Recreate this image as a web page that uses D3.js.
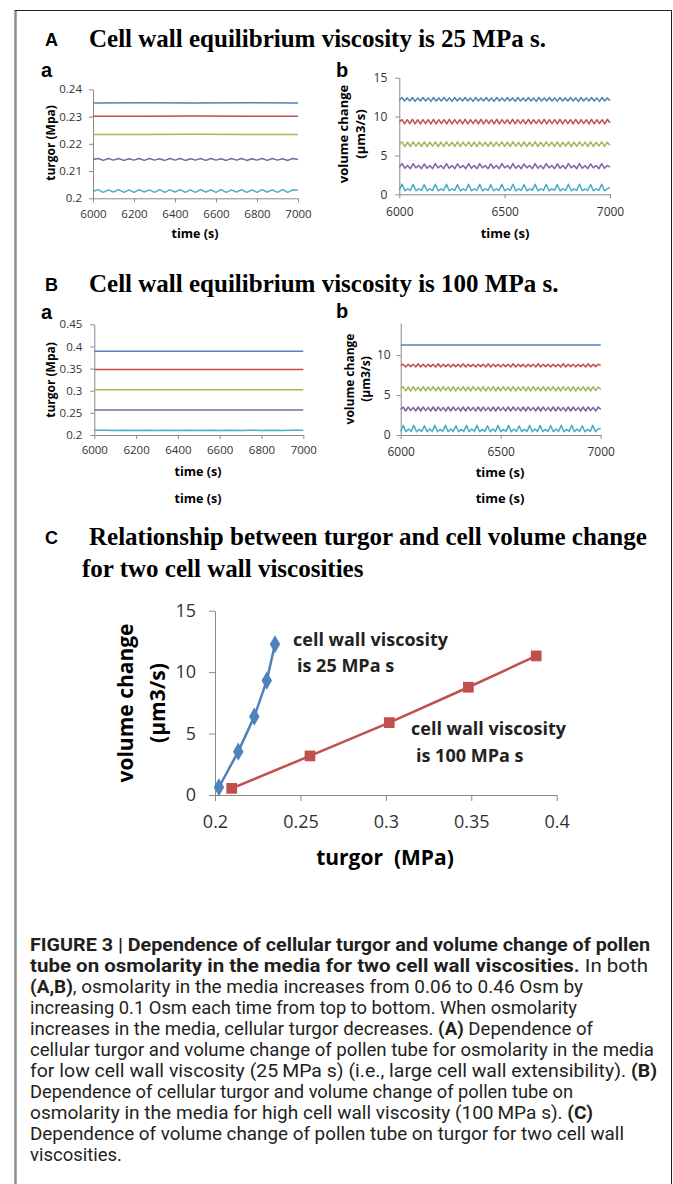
<!DOCTYPE html>
<html>
<head>
<meta charset="utf-8">
<script src="https://cdn.jsdelivr.net/npm/d3@7"></script>
<style>
body { margin: 0; background: #fff; }
svg text { font-family: "Open Sans", sans-serif; }
</style>
</head>
<body>
<svg id="fig" width="673" height="1184"></svg>
<script>
// colours of the five osmolarity levels (0.06 ... 0.46 Osm, top to bottom)
const colors = ["#4F81BD", "#C0504D", "#9BBB59", "#8064A2", "#4BACC6"];

// ticks
const timeTicksA = [6000, 6200, 6400, 6600, 6800, 7000];
const timeTicksB = [6000, 6500, 7000];
const aaTicksY = [0.2, 0.21, 0.22, 0.23, 0.24];
const abTicksY = [0, 5, 10, 15];
const baTicksY = [0.2, 0.25, 0.3, 0.35, 0.4, 0.45];
const bbTicksY = [0, 5, 10];
const cTicksX = [0.2, 0.25, 0.3, 0.35, 0.4];
const cTicksY = [0, 5, 10, 15];

// A a : turgor (MPa), samples evenly spread over 6000-7000 s
const aaBlue = [0.2350, 0.2351, 0.2350, 0.2351, 0.2350];
const aaRed = [0.2301, 0.2301, 0.2302, 0.2301, 0.2301];
const aaGreen = [0.2234, 0.2234, 0.2235, 0.2234, 0.2234];
const aaPurple = [0.2142, 0.2146, 0.2139, 0.2146, 0.2140, 0.2146, 0.2139, 0.2145, 0.2140, 0.2146,
  0.2139, 0.2146, 0.2140, 0.2145, 0.2139, 0.2146, 0.2140, 0.2146, 0.2139, 0.2145,
  0.2140, 0.2146, 0.2139, 0.2146, 0.2140, 0.2145, 0.2139, 0.2146, 0.2140, 0.2146,
  0.2139, 0.2145, 0.2140, 0.2146, 0.2139, 0.2146, 0.2140, 0.2145, 0.2139, 0.2146, 0.2142];
const aaCyan = [0.2025, 0.2032, 0.2022, 0.2031, 0.2023, 0.2032, 0.2022, 0.2031, 0.2022, 0.2032,
  0.2023, 0.2031, 0.2022, 0.2032, 0.2022, 0.2031, 0.2023, 0.2032, 0.2022, 0.2031,
  0.2022, 0.2032, 0.2023, 0.2031, 0.2022, 0.2032, 0.2022, 0.2031, 0.2023, 0.2032,
  0.2022, 0.2031, 0.2022, 0.2032, 0.2023, 0.2031, 0.2022, 0.2032, 0.2022, 0.2031, 0.2030];

// A b : volume change (um3/s)
const abBlue = [12.1, 12.45, 12.0, 12.4, 12.0, 12.45, 11.95, 12.4, 12.0, 12.45,
  12.0, 12.4, 11.95, 12.45, 12.0, 12.4, 12.0, 12.45, 12.0, 12.4,
  11.95, 12.45, 12.0, 12.4, 12.0, 12.45, 12.0, 12.4, 11.95, 12.45,
  12.0, 12.4, 12.0, 12.45, 12.0, 12.4, 11.95, 12.45, 12.0, 12.4,
  12.0, 12.45, 12.0, 12.4, 11.95, 12.45, 12.0, 12.4, 12.0, 12.45,
  12.0, 12.4, 11.95, 12.45, 12.0, 12.4, 12.0, 12.45, 12.0, 12.4,
  11.95, 12.45, 12.0, 12.4, 12.0, 12.45, 12.0, 12.4, 11.95, 12.45,
  12.0, 12.4, 12.0, 12.45, 12.0, 12.4, 11.95, 12.45, 12.0, 12.4, 12.05];
const abRed = [9.3, 9.6, 9.05, 9.6, 9.1, 9.65, 9.05, 9.6, 9.05, 9.6,
  9.1, 9.6, 9.05, 9.65, 9.05, 9.6, 9.1, 9.6, 9.05, 9.65,
  9.05, 9.6, 9.1, 9.6, 9.05, 9.65, 9.05, 9.6, 9.1, 9.6,
  9.05, 9.65, 9.05, 9.6, 9.1, 9.6, 9.05, 9.65, 9.05, 9.6,
  9.1, 9.6, 9.05, 9.65, 9.05, 9.6, 9.1, 9.6, 9.05, 9.65,
  9.05, 9.6, 9.1, 9.6, 9.05, 9.65, 9.05, 9.6, 9.1, 9.6,
  9.05, 9.65, 9.05, 9.6, 9.1, 9.6, 9.05, 9.65, 9.05, 9.6,
  9.1, 9.6, 9.05, 9.65, 9.05, 9.6, 9.1, 9.6, 9.05, 9.65, 9.2];
const abGreen = [6.4, 6.75, 6.15, 6.7, 6.15, 6.75, 6.2, 6.7, 6.15, 6.75,
  6.15, 6.7, 6.2, 6.75, 6.15, 6.7, 6.15, 6.75, 6.2, 6.7,
  6.15, 6.75, 6.15, 6.7, 6.2, 6.75, 6.15, 6.7, 6.15, 6.75,
  6.2, 6.7, 6.15, 6.75, 6.15, 6.7, 6.2, 6.75, 6.15, 6.7,
  6.15, 6.75, 6.2, 6.7, 6.15, 6.75, 6.15, 6.7, 6.2, 6.75,
  6.15, 6.7, 6.15, 6.75, 6.2, 6.7, 6.15, 6.75, 6.15, 6.7,
  6.2, 6.75, 6.15, 6.7, 6.15, 6.75, 6.2, 6.7, 6.15, 6.75,
  6.15, 6.7, 6.2, 6.75, 6.15, 6.7, 6.3];
const abPurple = [3.5, 3.95, 3.35, 3.7, 3.3, 3.95, 3.4, 3.7, 3.3, 3.9,
  3.35, 3.7, 3.3, 3.95, 3.4, 3.7, 3.3, 3.95, 3.35, 3.7,
  3.3, 3.9, 3.4, 3.7, 3.3, 3.95, 3.35, 3.7, 3.3, 3.95,
  3.4, 3.7, 3.3, 3.9, 3.35, 3.7, 3.3, 3.95, 3.4, 3.7,
  3.3, 3.95, 3.35, 3.7, 3.3, 3.9, 3.4, 3.7, 3.3, 3.95,
  3.35, 3.7, 3.3, 3.95, 3.4, 3.7, 3.3, 3.9, 3.35, 3.7,
  3.3, 3.95, 3.4, 3.7, 3.3, 3.95, 3.35, 3.7, 3.3, 3.9,
  3.4, 3.7, 3.3, 3.95, 3.35, 3.7, 3.5];
const abCyan = [0.55, 1.3, 0.45, 0.7, 0.5, 1.3, 0.45, 0.7, 0.5, 1.25,
  0.45, 0.7, 0.5, 1.3, 0.45, 0.7, 0.5, 1.3, 0.45, 0.7,
  0.5, 1.25, 0.45, 0.7, 0.5, 1.3, 0.45, 0.7, 0.5, 1.3,
  0.45, 0.7, 0.5, 1.25, 0.45, 0.7, 0.5, 1.3, 0.45, 0.7,
  0.5, 1.3, 0.45, 0.7, 0.5, 1.25, 0.45, 0.7, 0.5, 1.3,
  0.45, 0.7, 0.5, 1.3, 0.45, 0.7, 0.5, 1.25, 0.45, 0.7,
  0.5, 1.3, 0.45, 0.7, 0.5, 1.3, 0.45, 0.7, 0.5, 1.25,
  0.45, 0.7, 0.5, 1.3, 0.45, 0.7, 0.9];

// B a : turgor (MPa)
const baBlue = [0.389, 0.389, 0.389];
const baRed = [0.348, 0.348, 0.348];
const baGreen = [0.302, 0.302, 0.302];
const baPurple = [0.2565, 0.2565, 0.2565];
const baCyan = [0.2105, 0.2109, 0.2102, 0.2109, 0.2102, 0.2108, 0.2102, 0.2109, 0.2102, 0.2108,
  0.2102, 0.2109, 0.2102, 0.2108, 0.2102, 0.2109, 0.2102, 0.2108, 0.2102, 0.2109, 0.2105];

// B b : volume change (um3/s)
const bbBlue = [11.25, 11.25, 11.25];
const bbRed = [8.7, 8.85, 8.5, 8.85, 8.55, 8.85, 8.5, 8.9, 8.5, 8.85,
  8.5, 8.85, 8.55, 8.85, 8.5, 8.9, 8.5, 8.85, 8.55, 8.85,
  8.5, 8.85, 8.55, 8.85, 8.5, 8.9, 8.5, 8.85, 8.55, 8.85,
  8.5, 8.85, 8.55, 8.85, 8.5, 8.9, 8.5, 8.85, 8.55, 8.85,
  8.5, 8.85, 8.55, 8.85, 8.5, 8.9, 8.5, 8.85, 8.55, 8.85,
  8.5, 8.85, 8.55, 8.85, 8.5, 8.9, 8.5, 8.85, 8.55, 8.85,
  8.5, 8.85, 8.55, 8.85, 8.5, 8.9, 8.5, 8.85, 8.55, 8.85,
  8.5, 8.85, 8.55, 8.85, 8.5, 8.9, 8.5, 8.85, 8.55, 8.85, 8.7];
const bbGreen = [5.8, 6.05, 5.5, 6.0, 5.5, 6.05, 5.55, 6.0, 5.5, 6.05,
  5.5, 6.0, 5.55, 6.05, 5.5, 6.0, 5.5, 6.05, 5.55, 6.0,
  5.5, 6.05, 5.5, 6.0, 5.55, 6.05, 5.5, 6.0, 5.5, 6.05,
  5.55, 6.0, 5.5, 6.05, 5.5, 6.0, 5.55, 6.05, 5.5, 6.0,
  5.5, 6.05, 5.55, 6.0, 5.5, 6.05, 5.5, 6.0, 5.55, 6.05,
  5.5, 6.0, 5.5, 6.05, 5.55, 6.0, 5.5, 6.05, 5.5, 6.0,
  5.55, 6.05, 5.5, 6.0, 5.5, 6.05, 5.55, 6.0, 5.5, 6.05,
  5.5, 6.0, 5.55, 6.05, 5.5, 6.0, 5.5, 6.05, 5.55, 6.0, 5.7];
const bbPurple = [3.2, 3.5, 3.0, 3.5, 3.05, 3.45, 3.0, 3.5, 3.0, 3.5,
  3.05, 3.45, 3.0, 3.5, 3.0, 3.5, 3.05, 3.45, 3.0, 3.5,
  3.0, 3.5, 3.05, 3.45, 3.0, 3.5, 3.0, 3.5, 3.05, 3.45,
  3.0, 3.5, 3.0, 3.5, 3.05, 3.45, 3.0, 3.5, 3.0, 3.5,
  3.05, 3.45, 3.0, 3.5, 3.0, 3.5, 3.05, 3.45, 3.0, 3.5,
  3.0, 3.5, 3.05, 3.45, 3.0, 3.5, 3.0, 3.5, 3.05, 3.45,
  3.0, 3.5, 3.0, 3.5, 3.05, 3.45, 3.0, 3.5, 3.0, 3.5,
  3.05, 3.45, 3.0, 3.5, 3.0, 3.5, 3.05, 3.45, 3.0, 3.5, 3.2];
const bbCyan = [0.45, 1.2, 0.4, 0.75, 0.45, 1.2, 0.4, 0.7, 0.45, 1.15,
  0.4, 0.75, 0.45, 1.2, 0.4, 0.7, 0.45, 1.2, 0.4, 0.75,
  0.45, 1.15, 0.4, 0.7, 0.45, 1.2, 0.4, 0.75, 0.45, 1.2,
  0.4, 0.7, 0.45, 1.15, 0.4, 0.75, 0.45, 1.2, 0.4, 0.7,
  0.45, 1.2, 0.4, 0.75, 0.45, 1.15, 0.4, 0.7, 0.45, 1.2,
  0.4, 0.75, 0.45, 1.2, 0.4, 0.7, 0.45, 1.15, 0.4, 0.75,
  0.45, 1.2, 0.4, 0.7, 0.45, 1.2, 0.4, 0.75, 0.45, 1.15,
  0.4, 0.7, 0.45, 1.2, 0.4, 0.75, 0.8];

// C : mean turgor vs mean volume change
const cTurgor25 = [0.2023, 0.2136, 0.2230, 0.2303, 0.2351];
const cVolume25 = [0.63, 3.53, 6.38, 9.31, 12.27];
const cTurgor100 = [0.2098, 0.2556, 0.3020, 0.3483, 0.3880];
const cVolume100 = [0.54, 3.18, 5.89, 8.77, 11.32];

const captionLines = [
  [["FIGURE 3 | Dependence of cellular turgor and volume change of pollen", true]],
  [["tube on osmolarity in the media for two cell wall viscosities.", true], [" In both", false]],
  [["(A,B)", true], [", osmolarity in the media increases from 0.06 to 0.46 Osm by", false]],
  [["increasing 0.1 Osm each time from top to bottom. When osmolarity", false]],
  [["increases in the media, cellular turgor decreases. ", false], ["(A)", true], [" Dependence of", false]],
  [["cellular turgor and volume change of pollen tube for osmolarity in the media", false]],
  [["for low cell wall viscosity (25\u2009MPa s) (i.e., large cell wall extensibility). ", false], ["(B)", true]],
  [["Dependence of cellular turgor and volume change of pollen tube on", false]],
  [["osmolarity in the media for high cell wall viscosity (100\u2009MPa s). ", false], ["(C)", true]],
  [["Dependence of volume change of pollen tube on turgor for two cell wall", false]],
  [["viscosities.", false]]
];
const captionWidths = [620, 618, 553, 547, 563, 624, 627, 543, 563, 594, 92];

const svg = d3.select("#fig");

// frame
svg.append("line").attr("x1", 15.5).attr("y1", 10).attr("x2", 15.5).attr("y2", 1184)
  .attr("stroke", "#8c8c8c").attr("stroke-width", 2.5);
svg.append("line").attr("x1", 15).attr("y1", 10.5).attr("x2", 671.5).attr("y2", 10.5)
  .attr("stroke", "#222").attr("stroke-width", 1);
svg.append("line").attr("x1", 671.5).attr("y1", 10).attr("x2", 671.5).attr("y2", 1184)
  .attr("stroke", "#222").attr("stroke-width", 1);

function styleAxis(g, size) {
  g.select(".domain").attr("stroke", "#8a8a8a");
  g.selectAll(".tick line").attr("stroke", "#8a8a8a");
  g.selectAll(".tick text").attr("fill", "#333").style("font-size", size + "px")
    .style("font-family", "'Open Sans', sans-serif");
}

const fmt = (d) => String(+d.toFixed(2));

function drawPanel(p) {
  const x = d3.scaleLinear().domain([6000, 7000]).range([p.left, p.right]);
  const y = d3.scaleLinear().domain(p.yDomain).range([p.bottom, p.top]);

  svg.append("g").attr("transform", `translate(0,${p.bottom})`)
    .call(d3.axisBottom(x).tickValues(p.xTicks).tickSize(4).tickSizeOuter(0).tickPadding(p.xPad).tickFormat(d3.format("d")))
    .call((g) => styleAxis(g, p.font));
  svg.append("g").attr("transform", `translate(${p.left},0)`)
    .call(d3.axisLeft(y).tickValues(p.yTicks).tickSize(4).tickSizeOuter(0).tickPadding(p.yPad).tickFormat(fmt))
    .call((g) => styleAxis(g, p.font));

  const line = d3.line()
    .x((d, i, arr) => x(6000 + (i * 1000) / (arr.length - 1)))
    .y((d) => y(d));
  p.series.forEach((s, k) => {
    svg.append("path").datum(s).attr("d", line)
      .attr("fill", "none").attr("stroke", colors[k]).attr("stroke-width", 1.5)
      .attr("stroke-linejoin", "round");
  });

  // axis titles
  p.yTitle.forEach((t, k) => {
    svg.append("text")
      .attr("transform", `translate(${p.yTitleX[k]},${p.yTitleY}) rotate(-90)`)
      .attr("text-anchor", "middle").attr("dominant-baseline", "central")
      .style("font-size", p.titleFont + "px").style("font-weight", 700)
      .text(t);
  });
  p.xTitleY.forEach((ty) => {
    svg.append("text").attr("x", p.xTitleX).attr("y", ty)
      .attr("text-anchor", "middle").attr("dominant-baseline", "central")
      .style("font-size", p.xTitleFont + "px").style("font-weight", 700)
      .text("time (s)");
  });
  svg.append("text").attr("x", p.letterX).attr("y", p.letterY)
    .style("font-family", "'Liberation Sans', Arial, sans-serif")
    .style("font-size", "20px").style("font-weight", 700).text(p.letter);
}

drawPanel({
  left: 93, right: 298, top: 89.3, bottom: 198.3, yDomain: [0.2, 0.24],
  xTicks: timeTicksA, yTicks: aaTicksY, xPad: 8, yPad: 7, font: 11.5,
  series: [aaBlue, aaRed, aaGreen, aaPurple, aaCyan],
  yTitle: ["turgor (Mpa)"], yTitleX: [50], yTitleY: 143, titleFont: 12,
  xTitleX: 195, xTitleY: [233], xTitleFont: 12.5, letter: "a", letterX: 41, letterY: 77
});
drawPanel({
  left: 399.3, right: 610, top: 77.7, bottom: 194.3, yDomain: [0, 15],
  xTicks: timeTicksB, yTicks: abTicksY, xPad: 9, yPad: 8, font: 12,
  series: [abBlue, abRed, abGreen, abPurple, abCyan],
  yTitle: ["volume change", "(\u00b5m3/s)"], yTitleX: [343, 360], yTitleY: 134, titleFont: 13,
  xTitleX: 505, xTitleY: [233], xTitleFont: 13, letter: "b", letterX: 336, letterY: 77
});
drawPanel({
  left: 94.3, right: 303.3, top: 324.3, bottom: 435, yDomain: [0.2, 0.45],
  xTicks: timeTicksA, yTicks: baTicksY, xPad: 7, yPad: 8, font: 11.5,
  series: [baBlue, baRed, baGreen, baPurple, baCyan],
  yTitle: ["turgor (Mpa)"], yTitleX: [50], yTitleY: 380, titleFont: 12,
  xTitleX: 198, xTitleY: [471.5, 498], xTitleFont: 12.5, letter: "a", letterX: 41, letterY: 319
});
drawPanel({
  left: 400.7, right: 600.7, top: 323, bottom: 435, yDomain: [0, 14],
  xTicks: timeTicksB, yTicks: bbTicksY, xPad: 8, yPad: 6, font: 12,
  series: [bbBlue, bbRed, bbGreen, bbPurple, bbCyan],
  yTitle: ["volume change", "(\u00b5m3/s)"], yTitleX: [349, 365], yTitleY: 379, titleFont: 12,
  xTitleX: 500, xTitleY: [471.5, 498], xTitleFont: 13, letter: "b", letterX: 336, letterY: 318
});

// panel titles
const titles = [
  { letter: "A", text: "Cell wall equilibrium viscosity is 25 MPa s.", y: 47, x: 89 },
  { letter: "B", text: "Cell wall equilibrium viscosity is 100 MPa s.", y: 292, x: 89 },
  { letter: "C", text: "Relationship between turgor and cell volume change", y: 545, x: 89 }
];
titles.forEach((t) => {
  svg.append("text").attr("x", 45).attr("y", t.y - 1)
    .style("font-family", "'Liberation Sans', Arial, sans-serif")
    .style("font-size", "18px").style("font-weight", 700).text(t.letter);
  svg.append("text").attr("x", t.x).attr("y", t.y)
    .style("font-family", "'Liberation Serif', 'Times New Roman', serif")
    .style("font-size", "25px").style("font-weight", 700).text(t.text);
});
svg.append("text").attr("x", 82).attr("y", 577)
  .style("font-family", "'Liberation Serif', 'Times New Roman', serif")
  .style("font-size", "25px").style("font-weight", 700).text("for two cell wall viscosities");

// panel C
const xc = d3.scaleLinear().domain([0.2, 0.4]).range([215, 556.7]);
const yc = d3.scaleLinear().domain([0, 15]).range([795, 610.7]);
svg.append("g").attr("transform", "translate(0,795)")
  .call(d3.axisBottom(xc).tickValues(cTicksX).tickSize(6).tickSizeOuter(0).tickPadding(14).tickFormat(fmt))
  .call((g) => styleAxis(g, 18));
svg.append("g").attr("transform", "translate(215,0)")
  .call(d3.axisLeft(yc).tickValues(cTicksY).tickSize(6).tickSizeOuter(0).tickPadding(13).tickFormat(fmt))
  .call((g) => styleAxis(g, 18));

const cSeries = [
  { t: cTurgor25, v: cVolume25, color: colors[0], shape: d3.symbolDiamond, size: 95 },
  { t: cTurgor100, v: cVolume100, color: colors[1], shape: d3.symbolSquare, size: 115 }
];
cSeries.forEach((s) => {
  const pts = s.t.map((t, i) => [t, s.v[i]]);
  svg.append("path").datum(pts)
    .attr("d", d3.line().x((d) => xc(d[0])).y((d) => yc(d[1])))
    .attr("fill", "none").attr("stroke", s.color).attr("stroke-width", 2.5);
  svg.append("g").selectAll("path").data(pts).enter().append("path")
    .attr("transform", (d) => `translate(${xc(d[0])},${yc(d[1])})`)
    .attr("d", d3.symbol().type(s.shape).size(s.size))
    .attr("fill", s.color);
});

svg.append("text").attr("x", 385).attr("y", 857)
  .attr("text-anchor", "middle").attr("dominant-baseline", "central")
  .style("font-size", "21px").style("font-weight", 700).text("turgor\u00a0 (MPa)");
[["volume change", 125], ["(\u00b5m3/s)", 157]].forEach(([t, cx]) => {
  svg.append("text").attr("transform", `translate(${cx},703) rotate(-90)`)
    .attr("text-anchor", "middle").attr("dominant-baseline", "central")
    .style("font-size", "21px").style("font-weight", 700).text(t);
});
[["cell wall viscosity", 293, 646], ["is 25 MPa s", 297, 672],
 ["cell wall viscosity", 411, 735], ["is 100 MPa s", 416, 762]].forEach(([t, x, y]) => {
  svg.append("text").attr("x", x).attr("y", y)
    .style("font-size", "18px").style("font-weight", 700).attr("fill", "#222").text(t);
});

// caption
captionLines.forEach((parts, i) => {
  const txt = svg.append("text").attr("x", 30).attr("y", 951 + i * 21)
    .attr("textLength", captionWidths[i]).attr("lengthAdjust", "spacingAndGlyphs")
    .style("font-family", "Roboto, sans-serif").style("font-size", "17.5px").attr("fill", "#231f20");
  parts.forEach(([s, bold]) => {
    txt.append("tspan").style("font-weight", bold ? 700 : 400).text(s);
  });
});
</script>
</body>
</html>
